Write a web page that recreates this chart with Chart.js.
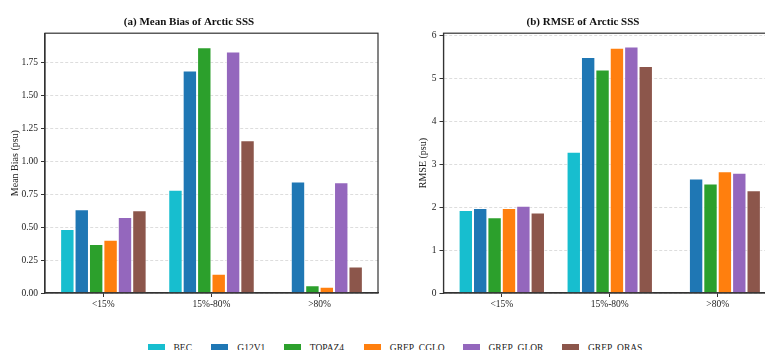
<!DOCTYPE html>
<html>
<head>
<meta charset="utf-8">
<script src="https://cdn.jsdelivr.net/npm/chart.js@4"></script>
<style>
  html, body { margin: 0; padding: 0; background: #fff; }
  body { width: 765px; height: 350px; overflow: hidden; position: relative; }
  canvas { position: absolute; top: 0; }
  #c1 { left: 0; }
  #c2 { left: 390px; }
  .legend { position: absolute; top: 0; left: 0; font-family: 'Liberation Serif', 'Times New Roman', serif; font-size: 9.5px; color: #222; }
  .item { position: absolute; top: 344px; white-space: nowrap; }
  .swatch { position: absolute; top: 0; width: 17px; height: 10px; }
  .label { position: absolute; top: -1px; line-height: 10px; }
</style>
</head>
<body>
<canvas id="c1" width="390" height="310"></canvas>
<canvas id="c2" width="400" height="310"></canvas>
<div class="legend" id="legend"></div>
<script>
// Sea-ice concentration bins
const categories = ['<15%', '15%-80%', '>80%'];
const models = ['BEC', 'G12V1', 'TOPAZ4', 'GREP_CGLO', 'GREP_GLOR', 'GREP_ORAS'];
const colors = ['#17becf', '#1f77b4', '#2ca02c', '#ff7f0e', '#9467bd', '#8c564b'];

// Mean bias of Arctic SSS (psu), one array per product
const biasBEC    = [0.485, 0.783, null];
const biasG12V1  = [0.636, 1.689, 0.846];
const biasTOPAZ4 = [0.371, 1.866, 0.058];
const biasCGLO   = [0.404, 0.146, 0.048];
const biasGLOR   = [0.576, 1.833, 0.841];
const biasORAS   = [0.629, 1.159, 0.202];

// RMSE of Arctic SSS (psu)
const rmseBEC    = [1.935, 3.287, null];
const rmseG12V1  = [1.980, 5.495, 2.666];
const rmseTOPAZ4 = [1.764, 5.207, 2.549];
const rmseCGLO   = [1.980, 5.712, 2.837];
const rmseGLOR   = [2.030, 5.743, 2.798];
const rmseORAS   = [1.873, 5.285, 2.394];

const biasTicks = [0, 0.25, 0.5, 0.75, 1.0, 1.25, 1.5, 1.75];
const rmseTicks = [0, 1, 2, 3, 4, 5, 6];

const biasSeries = [biasBEC, biasG12V1, biasTOPAZ4, biasCGLO, biasGLOR, biasORAS];
const rmseSeries = [rmseBEC, rmseG12V1, rmseTOPAZ4, rmseCGLO, rmseGLOR, rmseORAS];

const serif = "'Liberation Serif', 'Times New Roman', serif";

function datasetsFrom(series) {
  return series.map((vals, k) => ({
    label: models[k],
    data: vals.map((v, i) => ({ x: i, y: v })),
    backgroundColor: colors[k],
    borderColor: 'rgba(255,255,255,0.55)',
    borderWidth: 1,
    borderSkipped: 'bottom',
    categoryPercentage: 0.8,
    barPercentage: 1.0
  }));
}

// outline the whole plotting area like a boxed axes frame
const frame = {
  id: 'frame',
  afterDraw(chart) {
    const a = chart.chartArea, ctx = chart.ctx;
    ctx.save();
    ctx.strokeStyle = '#333';
    ctx.lineWidth = 1.2;
    ctx.strokeRect(a.left, a.top, a.right - a.left, a.bottom - a.top);
    ctx.restore();
  }
};

function makeChart(id, series, title, yTitle, yMax, yTicks, fmt, yWidth, titlePad, padRight) {
  return new Chart(document.getElementById(id), {
    type: 'bar',
    data: { datasets: datasetsFrom(series) },
    plugins: [frame],
    options: {
      responsive: false,
      animation: false,
      layout: { padding: { left: 0, right: padRight, top: 0, bottom: 0 } },
      plugins: {
        legend: { display: false },
        tooltip: { enabled: false },
        title: {
          display: true,
          text: title,
          color: '#111',
          font: { family: serif, size: 11, weight: 'bold' },
          padding: { top: 16, bottom: 4 }
        }
      },
      scales: {
        x: {
          type: 'linear',
          offset: false,
          min: -0.54,
          max: 2.54,
          afterBuildTicks: s => { s.ticks = categories.map((_, i) => ({ value: i })); },
          afterFit: s => { s.height = 17; },
          ticks: {
            autoSkip: false,
            maxRotation: 0,
            padding: 2,
            color: '#222',
            font: { family: serif, size: 9.5 },
            callback: v => categories[v]
          },
          grid: { display: true, offset: false, drawOnChartArea: false, drawTicks: true, tickLength: 4, tickColor: '#333', tickWidth: 1 },
          border: { display: true, color: '#333', width: 1.2 }
        },
        y: {
          min: 0,
          max: yMax,
          afterBuildTicks: s => { s.ticks = yTicks.map(v => ({ value: v })); },
          afterFit: s => { s.width = yWidth; },
          ticks: {
            padding: 3,
            color: '#222',
            font: { family: serif, size: 9.5 },
            callback: v => fmt(v)
          },
          title: {
            display: true,
            text: yTitle,
            color: '#222',
            font: { family: serif, size: 10 },
            padding: { top: titlePad, bottom: 0 }
          },
          grid: { color: '#d4d4d4', lineWidth: 0.8, tickLength: 4, tickColor: '#333', tickWidth: 1, tickBorderDash: [] },
          border: { display: true, color: '#333', width: 1.2, dash: [3, 2] }
        }
      }
    }
  });
}

makeChart('c1', biasSeries, '(a) Mean Bias of Arctic SSS', 'Mean Bias (psu)', 1.972, biasTicks,
  v => v.toFixed(2), 45, 9, 12);
makeChart('c2', rmseSeries, '(b) RMSE of Arctic SSS', 'RMSE (psu)', 6.05, rmseTicks,
  v => String(v), 53.5, 27, 14);

// shared legend along the bottom edge
const legendX = [147.5, 211.3, 283.8, 363.8, 462.5, 562];
const legendEl = document.getElementById('legend');
models.forEach((m, k) => {
  const item = document.createElement('div');
  item.className = 'item';
  item.style.left = legendX[k] + 'px';
  const sw = document.createElement('div');
  sw.className = 'swatch';
  sw.style.background = colors[k];
  const lb = document.createElement('div');
  lb.className = 'label';
  lb.style.left = '26px';
  lb.textContent = m;
  item.appendChild(sw);
  item.appendChild(lb);
  legendEl.appendChild(item);
});
</script>
</body>
</html>
